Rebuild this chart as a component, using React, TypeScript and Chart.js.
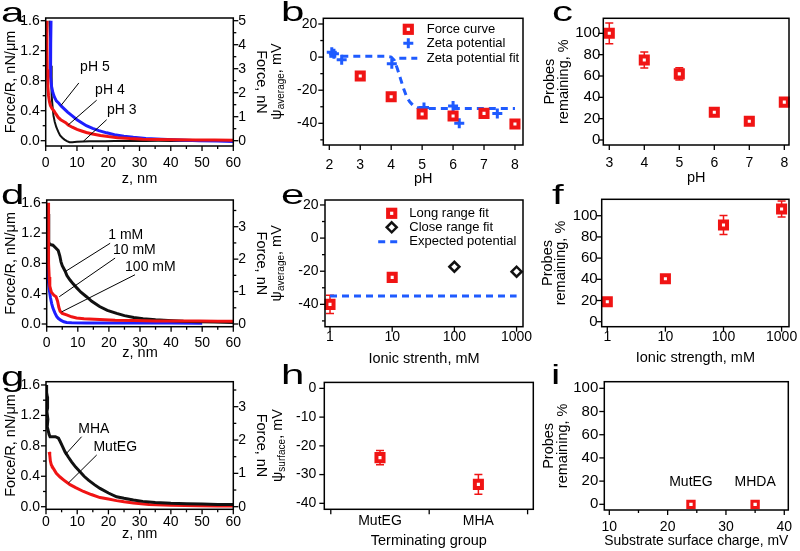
import React, { useEffect, useRef } from "react";
import { Chart, registerables } from "chart.js";

Chart.register(...registerables);

const FONT = "'Liberation Sans', Arial, Helvetica, sans-serif";
const RED = "#f01414";
const BLUE = "#1e1eff";
const FIT_BLUE = "#1f5bff";
const BLACK = "#111111";

// ---------- Panel a : force curves vs pH ----------
const aPH3Z = [1.2, 1.4, 1.6, 1.7, 1.8, 2.0, 2.2, 2.5, 2.9, 3.4, 4.0, 4.6, 5.3, 6.0, 6.8, 7.6, 8.5, 10, 12, 14, 16, 19, 22, 25, 28, 32, 36, 40, 45, 50, 55, 60];
const aPH3F = [1.6, 1.4, 1.2, 1.0, 0.8, 0.6, 0.45, 0.33, 0.25, 0.18, 0.12, 0.07, 0.04, 0.015, -0.005, -0.02, -0.02, -0.015, -0.01, -0.008, -0.006, -0.007, -0.004, -0.005, -0.003, -0.004, -0.002, -0.003, -0.002, -0.003, -0.002, -0.002];
const aPH4Z = [0.3, 0.4, 0.5, 0.7, 0.9, 1.2, 1.5, 2.0, 2.6, 3.2, 4.0, 4.8, 5.6, 6.4, 7.2, 8.5, 10, 11.5, 13, 15, 17.5, 20, 23, 27, 31, 36, 42, 48, 54, 60];
const aPH4F = [1.6, 1.25, 0.95, 0.72, 0.6, 0.52, 0.47, 0.43, 0.4, 0.36, 0.31, 0.28, 0.26, 0.24, 0.21, 0.18, 0.15, 0.13, 0.11, 0.09, 0.07, 0.055, 0.04, 0.028, 0.02, 0.015, 0.012, 0.01, 0.008, 0.006];
const aPH5Z = [1.7, 1.6, 1.5, 1.6, 1.9, 2.3, 2.8, 3.4, 4.2, 5.0, 6.0, 7.0, 8.5, 10, 11.5, 13, 15, 17, 19.5, 22, 25, 28, 32, 37, 43, 49, 55, 60];
const aPH5F = [1.6, 1.3, 1.0, 0.85, 0.72, 0.64, 0.58, 0.53, 0.5, 0.46, 0.42, 0.38, 0.33, 0.28, 0.24, 0.2, 0.165, 0.135, 0.105, 0.08, 0.06, 0.045, 0.03, 0.018, 0.008, 0.0, -0.005, -0.01];

// ---------- Panel b : potential vs pH ----------
const bForcePH = [3, 4, 5, 6, 7, 8];
const bForcePsi = [-11.4, -23.9, -34.4, -35.6, -34, -40.4];
const bZetaPH = [2.08, 2.15, 2.4, 4.02, 5.06, 6.0, 6.2, 7.43];
const bZetaPsi = [3, 2, -1.6, -4, -30.4, -29.6, -40, -34];
const bFitPH = [2.0, 3.0, 3.8, 4.0, 4.1, 4.2, 4.3, 4.4, 4.5, 4.6, 4.7, 4.85, 5.0, 6.0, 7.0, 8.0];
const bFitPsi = [0.5, 0.5, 0.5, 0, -2, -7, -13, -19, -24, -27, -29, -30.5, -31, -31, -31, -31];

// ---------- Panel c : probes remaining vs pH ----------
const cPH = [3, 4, 5, 6, 7, 8];
const cRemain = [100, 75, 62, 26, 17.5, 35.5];
const cErr = [9.7, 7.4, 5.8, 2, 1.5, 1.5];

// ---------- Panel d : force curves vs ionic strength ----------
const d1Z = [0.3, 0.5, 0.6, 0.7, 1.0, 2.0, 3.0, 3.7, 4.2, 4.6, 5.0, 5.9, 6.5, 7.5, 8.5, 9.6, 11, 12.8, 14.5, 17, 19.5, 22.5, 25, 28, 31, 35, 39, 44, 49, 54, 60];
const d1F = [1.55, 1.45, 1.2, 1.08, 1.05, 1.04, 1.0, 0.97, 0.9, 0.82, 0.77, 0.7, 0.64, 0.58, 0.53, 0.48, 0.42, 0.36, 0.3, 0.23, 0.18, 0.14, 0.11, 0.085, 0.07, 0.055, 0.045, 0.035, 0.03, 0.025, 0.02];
const d10Z = [0.5, 0.5, 0.6, 0.7, 0.8, 1.0, 1.5, 2.3, 3.0, 3.5, 3.9, 4.3, 5.0, 6.4, 8, 9.6, 12, 17, 22, 28, 35, 42, 49, 55, 60];
const d10F = [1.6, 1.3, 1.05, 0.8, 0.62, 0.5, 0.42, 0.38, 0.36, 0.3, 0.22, 0.17, 0.14, 0.12, 0.095, 0.08, 0.07, 0.06, 0.05, 0.045, 0.04, 0.04, 0.04, 0.035, 0.035];
const d100Z = [0.1, 0.2, 0.35, 0.5, 0.8, 1.2, 1.6, 2.0, 2.6, 3.2, 3.7, 4.5, 5.5, 6.4, 8, 12.8, 20, 30, 40, 50];
const d100F = [1.22, 0.95, 0.7, 0.58, 0.46, 0.35, 0.27, 0.21, 0.15, 0.1, 0.075, 0.05, 0.03, 0.02, 0.015, 0.012, 0.012, 0.012, 0.012, 0.01];

// ---------- Panel e : potential vs ionic strength ----------
const eLongI = [1, 10];
const eLongPsi = [-40, -23.7];
const eLongErr = [5.5, 2];
const eCloseI = [100, 1000];
const eClosePsi = [-17.3, -20.3];
const eExpI = [1, 1000];
const eExpPsi = [-35, -35];

// ---------- Panel f : probes remaining vs ionic strength ----------
const fI = [1, 10, 100, 1000];
const fRemain = [18.9, 40.6, 91.2, 106.3];
const fErr = [1.5, 2, 9, 7.5];

// ---------- Panel g : force curves vs terminating group ----------
const gMhaZ = [0.1, 0.2, 0.4, 0.5, 0.3, 0.6, 0.4, 0.7, 1.0, 1.3, 2, 3, 4, 4.5, 5.2, 6.1, 7.2, 8.2, 9.5, 10.9, 12.2, 13.6, 15.5, 17.3, 20, 22.6, 25, 28, 31, 35, 40, 45, 50, 55, 60];
const gMhaF = [1.6, 1.5, 1.45, 1.3, 1.25, 1.15, 1.05, 1.0, 0.95, 0.92, 0.92, 0.92, 0.9, 0.86, 0.8, 0.72, 0.65, 0.59, 0.52, 0.46, 0.4, 0.35, 0.29, 0.24, 0.18, 0.13, 0.11, 0.088, 0.07, 0.055, 0.045, 0.04, 0.035, 0.03, 0.03];
const gMutZ = [1.0, 1.2, 1.4, 1.7, 2.4, 3.3, 4.5, 6, 7.7, 9.5, 12, 14.5, 17.3, 20, 22.6, 25, 28, 33, 40, 49, 55, 60];
const gMutF = [0.72, 0.68, 0.6, 0.55, 0.5, 0.44, 0.39, 0.34, 0.29, 0.25, 0.2, 0.16, 0.12, 0.1, 0.08, 0.065, 0.05, 0.03, 0.02, 0.012, 0.01, 0.01];

// ---------- Panel h : surface potential ----------
const hGroups = ["MutEG", "MHA"];
const hPsi = [-24.1, -33.4];
const hErr = [2.5, 3.4];

// ---------- Panel i : probes remaining vs substrate charge ----------
const iGroups = ["MutEG", "MHDA"];
const iCharge = [24, 35];
const iRemain = [0, 0];

// ---------- tick values ----------
const zTicks = [0, 10, 20, 30, 40, 50, 60];
const zMinor = [5, 15, 25, 35, 45, 55];
const forceRTicks = [0, 0.4, 0.8, 1.2, 1.6];
const forceRMinor = [0.2, 0.6, 1.0, 1.4];
const aNTicks = [0, 1, 2, 3, 4, 5];
const aNMinor = [0.5, 1.5, 2.5, 3.5, 4.5];
const dgNTicks = [0, 1, 2, 3];
const dgNMinor = [0.5, 1.5, 2.5, 3.5];
const psiTicks = [20, 0, -20, -40];
const psiMinor = [10, -10, -30, -50];
const pHTicksB = [2, 3, 4, 5, 6, 7, 8];
const pHTicksC = [3, 4, 5, 6, 7, 8];
const pctTicks = [0, 20, 40, 60, 80, 100];
const ionicTicks = [1, 10, 100, 1000];
const hPsiTicks = [0, -10, -20, -30, -40];
const hBounds = [0.5, 1.5, 2.5];
const chargeTicks = [10, 20, 30, 40];
const chargeMinor = [15, 25, 35];

const pts = (xs: number[], ys: number[]) => xs.map((x, i) => ({ x, y: ys[i] }));

const curve = (xs: number[], ys: number[], color: string, width = 2.5) => ({
  data: pts(xs, ys),
  showLine: true,
  borderColor: color,
  backgroundColor: color,
  borderWidth: width,
  pointRadius: 0,
  tension: 0,
});

const markers = (xs: number[], ys: number[], style: string, color: string, r: number, bw: number, bg = "#ffffff") => ({
  data: pts(xs, ys),
  showLine: false,
  pointStyle: style,
  pointRadius: r,
  pointBorderWidth: bw,
  pointBorderColor: color,
  pointBackgroundColor: bg,
  borderColor: color,
  backgroundColor: bg,
  clip: false,
});

const dashed = (xs: number[], ys: number[], color: string) => ({
  data: pts(xs, ys),
  showLine: true,
  borderColor: color,
  borderWidth: 3,
  borderDash: [7, 5],
  pointRadius: 0,
  tension: 0,
});

type Box = { l: number; t: number; r: number; b: number };
type AxisDef = {
  type?: string;
  min: number;
  max: number;
  ticks: number[];
  fmt?: (v: number) => string;
  font?: number;
  gap?: number;
  labelC?: number;
  title?: string | string[];
  titleC?: number;
  titleLH?: number;
};
type Note = { text: string; tx: number; ty: number; line?: [number, number, number, number]; align?: string };
type LegendRow = { kind: string; color: string; label: string; half?: number; dx?: number };
type PanelDef = {
  plot: Box;
  x: AxisDef;
  y: AxisDef;
  y2?: AxisDef;
  datasets: any[];
  marks: { axis: string; values: number[]; len: number }[];
  errors?: { xs: number[]; ys: number[]; errs: number[]; color: string }[];
  notes?: Note[];
  legend?: { mx: number; tx: number; ys: number[]; rows: LegendRow[] };
  psi?: { sub: string; x: number; y: number };
};

const TITLE_SIZE = 14.5;

function drawMarker(ctx: CanvasRenderingContext2D, kind: string, color: string, x: number, y: number, half = 9) {
  ctx.save();
  if (kind === "rect") {
    ctx.fillStyle = "#fff";
    ctx.strokeStyle = color;
    ctx.lineWidth = 4;
    ctx.fillRect(x - 3.6, y - 3.6, 7.2, 7.2);
    ctx.strokeRect(x - 3.6, y - 3.6, 7.2, 7.2);
  } else if (kind === "cross") {
    ctx.strokeStyle = color;
    ctx.lineWidth = 3;
    ctx.beginPath();
    ctx.moveTo(x - 5, y);
    ctx.lineTo(x + 5, y);
    ctx.moveTo(x, y - 5);
    ctx.lineTo(x, y + 5);
    ctx.stroke();
  } else if (kind === "diamond") {
    ctx.fillStyle = "#fff";
    ctx.strokeStyle = color;
    ctx.lineWidth = 2.5;
    ctx.beginPath();
    ctx.moveTo(x, y - 5);
    ctx.lineTo(x + 5, y);
    ctx.lineTo(x, y + 5);
    ctx.lineTo(x - 5, y);
    ctx.closePath();
    ctx.fill();
    ctx.stroke();
  } else if (kind === "dash") {
    ctx.strokeStyle = color;
    ctx.lineWidth = 3;
    ctx.setLineDash([7, 5]);
    ctx.beginPath();
    ctx.moveTo(x - half, y);
    ctx.lineTo(x + half, y);
    ctx.stroke();
  }
  ctx.restore();
}

function decorPlugin(p: PanelDef, ox: number, oy: number) {
  return {
    id: "decor",
    beforeDatasetsDraw(chart: any) {
      const ctx = chart.ctx;
      (p.errors || []).forEach((e) => {
        ctx.save();
        ctx.strokeStyle = e.color;
        ctx.lineWidth = 1.5;
        e.xs.forEach((xv, i) => {
          const X = chart.scales.x.getPixelForValue(xv);
          const Y1 = chart.scales.y.getPixelForValue(e.ys[i] + e.errs[i]);
          const Y2 = chart.scales.y.getPixelForValue(e.ys[i] - e.errs[i]);
          ctx.beginPath();
          ctx.moveTo(X, Y1);
          ctx.lineTo(X, Y2);
          ctx.moveTo(X - 4, Y1);
          ctx.lineTo(X + 4, Y1);
          ctx.moveTo(X - 4, Y2);
          ctx.lineTo(X + 4, Y2);
          ctx.stroke();
        });
        ctx.restore();
      });
    },
    afterDraw(chart: any) {
      const ctx: CanvasRenderingContext2D = chart.ctx;
      const a = chart.chartArea;
      ctx.save();
      ctx.strokeStyle = "#000";
      ctx.lineWidth = 1.5;
      ctx.strokeRect(a.left, a.top, a.right - a.left, a.bottom - a.top);
      ctx.lineWidth = 1.3;
      p.marks.forEach((m) => {
        const s = chart.scales[m.axis];
        m.values.forEach((v) => {
          if (v < s.min || v > s.max) return;
          const P = s.getPixelForValue(v);
          ctx.beginPath();
          if (m.axis === "x") {
            ctx.moveTo(P, a.bottom);
            ctx.lineTo(P, a.bottom + m.len);
          } else if (m.axis === "y") {
            ctx.moveTo(a.left - m.len, P);
            ctx.lineTo(a.left, P);
          } else {
            ctx.moveTo(a.right, P);
            ctx.lineTo(a.right + m.len, P);
          }
          ctx.stroke();
        });
      });
      // annotations
      (p.notes || []).forEach((n) => {
        const sx = chart.scales.x;
        const sy = chart.scales.y;
        if (n.line) {
          ctx.lineWidth = 1;
          ctx.strokeStyle = "#000";
          ctx.beginPath();
          ctx.moveTo(sx.getPixelForValue(n.line[0]), sy.getPixelForValue(n.line[1]));
          ctx.lineTo(sx.getPixelForValue(n.line[2]), sy.getPixelForValue(n.line[3]));
          ctx.stroke();
        }
        ctx.fillStyle = "#000";
        ctx.font = `14px ${FONT}`;
        ctx.textBaseline = "middle";
        ctx.textAlign = (n.align as CanvasTextAlign) || "left";
        ctx.fillText(n.text, sx.getPixelForValue(n.tx), sy.getPixelForValue(n.ty));
      });
      // legend
      if (p.legend) {
        const L = p.legend;
        L.rows.forEach((r, i) => {
          const y = L.ys[i] - oy;
          drawMarker(ctx, r.kind, r.color, L.mx - ox + (r.dx || 0), y, r.half);
          ctx.fillStyle = "#000";
          ctx.font = `13px ${FONT}`;
          ctx.textBaseline = "middle";
          ctx.textAlign = "left";
          ctx.fillText(r.label, L.tx - ox, y);
        });
      }
      // psi axis title with subscript
      if (p.psi) {
        ctx.translate(p.psi.x - ox, p.psi.y - oy);
        ctx.rotate(-Math.PI / 2);
        ctx.fillStyle = "#000";
        ctx.textBaseline = "middle";
        ctx.textAlign = "left";
        const main = `${TITLE_SIZE}px ${FONT}`;
        const small = `10px ${FONT}`;
        ctx.font = main;
        const w1 = ctx.measureText("ψ").width;
        const w3 = ctx.measureText(", mV").width;
        ctx.font = small;
        const w2 = ctx.measureText(p.psi.sub).width;
        let px = -(w1 + w2 + w3) / 2;
        ctx.font = main;
        ctx.fillText("ψ", px, 0);
        px += w1;
        ctx.font = small;
        ctx.fillText(p.psi.sub, px, 4.5);
        px += w2;
        ctx.font = main;
        ctx.fillText(", mV", px, 0);
      }
      ctx.restore();
    },
  };
}

function buildPanel(p: PanelDef) {
  const cx = Math.max(0, Math.round(p.plot.l - 64));
  const cy = Math.round(p.plot.t - 16);
  const cr = Math.round(p.plot.r + (p.y2 ? 40 : 24));
  const cb = Math.round(p.plot.b + 46);
  const w = cr - cx;
  const h = cb - cy;
  const title = (text: any, lh: number, pad: number) =>
    text
      ? {
          display: true,
          text,
          color: "#000",
          font: { family: FONT, size: TITLE_SIZE, lineHeight: lh },
          padding: { top: pad, bottom: pad },
        }
      : { display: false };
  const common = (a: AxisDef) => ({
    type: a.type || "linear",
    min: a.min,
    max: a.max,
    grid: { display: false, drawTicks: false },
    border: { display: false },
    afterBuildTicks: (s: any) => {
      s.ticks = a.ticks.map((v) => ({ value: v }));
    },
  });
  const fs = (a: AxisDef) => a.font || 14;
  const scales: any = {
    x: {
      ...common(p.x),
      position: "bottom",
      afterFit: (s: any) => {
        s.height = cb - p.plot.b;
      },
      ticks: {
        autoSkip: false,
        maxRotation: 0,
        minRotation: 0,
        color: "#000",
        font: { family: FONT, size: fs(p.x) },
        padding: (p.x.labelC as number) - p.plot.b - (fs(p.x) * 1.2) / 2,
        callback: (v: any) => (p.x.fmt ? p.x.fmt(Number(v)) : String(v)),
      },
      title: title(p.x.title, 1.2, cb - (p.x.titleC || 0) - (TITLE_SIZE * 1.2) / 2),
    },
    y: {
      ...common(p.y),
      position: "left",
      afterFit: (s: any) => {
        s.width = p.plot.l - cx;
      },
      ticks: {
        autoSkip: false,
        color: "#000",
        font: { family: FONT, size: fs(p.y) },
        padding: p.y.gap,
        callback: (v: any) => (p.y.fmt ? p.y.fmt(Number(v)) : String(v)),
      },
      title: title(
        p.y.title,
        p.y.titleLH || 1.2,
        Math.max(0, (p.y.titleC || 0) - cx - (TITLE_SIZE * (p.y.titleLH || 1.2)) / 2)
      ),
    },
  };
  if (p.y2) {
    const y2 = p.y2;
    scales.y2 = {
      ...common(y2),
      axis: "y",
      position: "right",
      afterFit: (s: any) => {
        s.width = cr - p.plot.r;
      },
      ticks: {
        autoSkip: false,
        color: "#000",
        font: { family: FONT, size: fs(y2) },
        padding: y2.gap,
        callback: (v: any) => String(v),
      },
      title: title(y2.title, 1.2, Math.max(0, cr - (y2.titleC || 0) - (TITLE_SIZE * 1.2) / 2)),
    };
  }
  const config: any = {
    type: "scatter",
    data: { datasets: p.datasets },
    options: {
      responsive: false,
      maintainAspectRatio: false,
      animation: false,
      devicePixelRatio: 1,
      events: [],
      layout: {
        padding: { top: p.plot.t - cy, left: 0, bottom: 0, right: p.y2 ? 0 : cr - p.plot.r },
      },
      plugins: { legend: { display: false }, tooltip: { enabled: false } },
      scales,
    },
    plugins: [decorPlugin(p, cx, cy)],
  };
  return { x: cx, y: cy, w, h, config };
}

// ---------- panel definitions ----------
const defs: (() => PanelDef)[] = [
  // a
  () => ({
    plot: { l: 45.7, t: 18, r: 233.3, b: 146 },
    x: { min: 0, max: 60, ticks: zTicks, labelC: 163, title: "z, nm", titleC: 179 },
    y: { min: -0.0707, max: 1.636, ticks: forceRTicks, fmt: (v) => v.toFixed(1), gap: 6, title: "Force/R, nN/μm", titleC: 11 },
    y2: { min: -0.0707 * 3.125, max: 1.636 * 3.125, ticks: aNTicks, gap: 5, title: "Force, nN", titleC: 261 },
    datasets: [curve(aPH4Z, aPH4F, RED, 3), curve(aPH5Z, aPH5F, BLUE, 3), curve(aPH3Z, aPH3F, BLACK, 2)],
    marks: [
      { axis: "x", values: zTicks, len: 5 },
      { axis: "x", values: zMinor, len: 3 },
      { axis: "y", values: forceRTicks, len: 5 },
      { axis: "y", values: forceRMinor, len: 3 },
      { axis: "y2", values: aNTicks, len: 5 },
      { axis: "y2", values: aNMinor, len: 3 },
    ],
    notes: [
      { text: "pH 5", tx: 11, ty: 0.98, line: [10.6, 0.77, 4.9, 0.47] },
      { text: "pH 4", tx: 15.8, ty: 0.67, line: [16.3, 0.54, 7.2, 0.21] },
      { text: "pH 3", tx: 19.6, ty: 0.41, line: [19.5, 0.28, 12, -0.01] },
    ],
  }),
  // b
  () => ({
    plot: { l: 323.3, t: 18.3, r: 523, b: 145 },
    x: { min: 1.806, max: 8.26, ticks: pHTicksB, labelC: 165, title: "pH", titleC: 178.5 },
    y: { min: -53.1, max: 23.44, ticks: psiTicks, gap: 6 },
    datasets: [
      markers(bForcePH, bForcePsi, "rect", RED, 5, 4),
      markers(bZetaPH, bZetaPsi, "cross", FIT_BLUE, 5, 3),
      dashed(bFitPH, bFitPsi, FIT_BLUE),
    ],
    marks: [
      { axis: "x", values: pHTicksB, len: 5 },
      { axis: "y", values: psiTicks, len: 5 },
      { axis: "y", values: psiMinor, len: 3 },
    ],
    legend: {
      mx: 408.3,
      tx: 426.7,
      ys: [29.3, 43.3, 58.3],
      rows: [
        { kind: "rect", color: RED, label: "Force curve" },
        { kind: "cross", color: FIT_BLUE, label: "Zeta potential" },
        { kind: "dash", color: FIT_BLUE, label: "Zeta potential fit", half: 9 },
      ],
    },
    psi: { sub: "average", x: 277, y: 81.5 },
  }),
  // c
  () => ({
    plot: { l: 603.3, t: 18.3, r: 789, b: 145 },
    x: { min: 2.829, max: 8.134, ticks: pHTicksC, labelC: 163, title: "pH", titleC: 178 },
    y: { min: -4.69, max: 114.1, ticks: pctTicks, gap: 3, font: 15, title: ["Probes", "remaining, %"], titleC: 550, titleLH: 0.95 },
    datasets: [markers(cPH, cRemain, "rect", RED, 5, 4)],
    errors: [{ xs: cPH, ys: cRemain, errs: cErr, color: RED }],
    marks: [
      { axis: "x", values: pHTicksC, len: 5 },
      { axis: "y", values: pctTicks, len: 5 },
    ],
  }),
  // d
  () => ({
    plot: { l: 46.7, t: 200, r: 233.3, b: 326.7 },
    x: { min: 0, max: 60, ticks: zTicks, labelC: 343, title: "z, nm", titleC: 353 },
    y: { min: -0.0356, max: 1.636, ticks: forceRTicks, fmt: (v) => v.toFixed(1), gap: 6, title: "Force/R, nN/μm", titleC: 11 },
    y2: { min: -0.0356 * 2.337, max: 1.636 * 2.337, ticks: dgNTicks, gap: 5, title: "Force, nN", titleC: 261 },
    datasets: [curve(d10Z, d10F, RED, 3), curve(d1Z, d1F, BLACK, 3), curve(d100Z, d100F, BLUE, 3)],
    marks: [
      { axis: "x", values: zTicks, len: 5 },
      { axis: "x", values: zMinor, len: 3 },
      { axis: "y", values: forceRTicks, len: 5 },
      { axis: "y", values: forceRMinor, len: 3 },
      { axis: "y2", values: dgNTicks, len: 5 },
      { axis: "y2", values: dgNMinor, len: 3 },
    ],
    notes: [
      { text: "1 mM", tx: 19.8, ty: 1.17, line: [20.4, 1.065, 5.9, 0.69] },
      { text: "10 mM", tx: 21.3, ty: 0.98, line: [22, 0.87, 4.05, 0.36] },
      { text: "100 mM", tx: 25.2, ty: 0.75, line: [28.4, 0.65, 4.8, 0.16] },
    ],
  }),
  // e
  () => ({
    plot: { l: 325, t: 200, r: 523, b: 326.7 },
    x: { type: "logarithmic", min: 0.831, max: 1268, ticks: ionicTicks, labelC: 337, title: "Ionic strenth, mM", titleC: 359 },
    y: { min: -53.5, max: 23.0, ticks: psiTicks, gap: 6.5 },
    datasets: [
      markers(eLongI, eLongPsi, "rect", RED, 5, 4),
      markers(eCloseI, eClosePsi, "rectRot", BLACK, 5, 2.5),
      dashed(eExpI, eExpPsi, FIT_BLUE),
    ],
    errors: [{ xs: eLongI, ys: eLongPsi, errs: eLongErr, color: RED }],
    marks: [
      { axis: "x", values: ionicTicks, len: 5 },
      { axis: "y", values: psiTicks, len: 5 },
      { axis: "y", values: psiMinor, len: 3 },
    ],
    legend: {
      mx: 391.7,
      tx: 409.3,
      ys: [213.3, 227.3, 241.7],
      rows: [
        { kind: "rect", color: RED, label: "Long range fit" },
        { kind: "diamond", color: BLACK, label: "Close range fit" },
        { kind: "dash", color: FIT_BLUE, label: "Expected potential", half: 11, dx: -2.5 },
      ],
    },
    psi: { sub: "average", x: 277, y: 263.3 },
  }),
  // f
  () => ({
    plot: { l: 601.7, t: 199.3, r: 789, b: 326.7 },
    x: { type: "logarithmic", min: 0.801, max: 1341, ticks: ionicTicks, labelC: 337, title: "Ionic strength, mM", titleC: 358 },
    y: { min: -4.72, max: 115.5, ticks: pctTicks, gap: 4, font: 15, title: ["Probes", "remaining, %"], titleC: 547.5, titleLH: 0.95 },
    datasets: [markers(fI, fRemain, "rect", RED, 5, 4)],
    errors: [{ xs: fI, ys: fRemain, errs: fErr, color: RED }],
    marks: [
      { axis: "x", values: ionicTicks, len: 5 },
      { axis: "y", values: pctTicks, len: 5 },
    ],
  }),
  // g
  () => ({
    plot: { l: 46, t: 381.7, r: 233.3, b: 509.3 },
    x: { min: 0, max: 60, ticks: zTicks, labelC: 522, title: "z, nm", titleC: 533.5 },
    y: { min: -0.0342, max: 1.643, ticks: forceRTicks, fmt: (v) => v.toFixed(1), gap: 6, title: "Force/R, nN/μm", titleC: 11 },
    y2: { min: -0.0342 * 2.282, max: 1.643 * 2.282, ticks: dgNTicks, gap: 5, title: "Force, nN", titleC: 261 },
    datasets: [curve(gMhaZ, gMhaF, BLACK, 3), curve(gMutZ, gMutF, RED, 3)],
    marks: [
      { axis: "x", values: zTicks, len: 5 },
      { axis: "x", values: zMinor, len: 3 },
      { axis: "y", values: forceRTicks, len: 5 },
      { axis: "y", values: forceRMinor, len: 3 },
      { axis: "y2", values: dgNTicks, len: 5 },
      { axis: "y2", values: dgNMinor, len: 3 },
    ],
    notes: [
      { text: "MHA", tx: 10.35, ty: 1.02, line: [11.4, 0.92, 6.1, 0.68] },
      { text: "MutEG", tx: 15.2, ty: 0.78, line: [16.25, 0.68, 7.15, 0.31] },
    ],
  }),
  // h
  () => {
    const hPos = hGroups.map((_, i) => i + 1);
    return {
      plot: { l: 324.3, t: 381.7, r: 533.3, b: 509.3 },
      x: { min: 0.434, max: 2.558, ticks: hPos, fmt: (v: number) => hGroups[Math.round(v) - 1] || "", labelC: 521.5, title: "Terminating group", titleC: 540.5 },
      y: { min: -42.08, max: 2.08, ticks: hPsiTicks, gap: 8 },
      datasets: [markers(hPos, hPsi, "rect", RED, 5, 4)],
      errors: [{ xs: hPos, ys: hPsi, errs: hErr, color: RED }],
      marks: [
        { axis: "x", values: hBounds, len: 5 },
        { axis: "y", values: hPsiTicks, len: 5 },
      ],
      psi: { sub: "surface", x: 277.5, y: 445.5 },
    };
  },
  // i
  () => ({
    plot: { l: 604.3, t: 381.7, r: 788.3, b: 510 },
    x: { min: 9.14, max: 40.69, ticks: chargeTicks, labelC: 527, title: "Substrate surface charge, mV", titleC: 541 },
    y: { min: -4.9, max: 105.7, ticks: pctTicks, gap: 6, font: 15, title: ["Probes", "remaining, %"], titleC: 549, titleLH: 0.95 },
    datasets: [markers(iCharge, iRemain, "rect", RED, 4.5, 3)],
    marks: [
      { axis: "x", values: chargeTicks, len: 5 },
      { axis: "x", values: chargeMinor, len: 3 },
      { axis: "y", values: pctTicks, len: 5 },
    ],
    notes: iGroups.map((g, i) => ({ text: g, tx: iCharge[i], ty: 19.5, align: "center" })),
  }),
];

const letters: [string, number, number][] = [
  ["a", 1, 23],
  ["b", 281, 22],
  ["c", 552, 22],
  ["d", 1, 205],
  ["e", 281, 205],
  ["f", 552, 205],
  ["g", 1, 387],
  ["h", 281, 385],
  ["i", 551, 385],
];

function Panel({ make }: { make: () => PanelDef }) {
  const ref = useRef<HTMLCanvasElement>(null);
  const geo = buildPanel(make());
  useEffect(() => {
    const built = buildPanel(make());
    const chart = new Chart(ref.current as HTMLCanvasElement, built.config);
    return () => chart.destroy();
  }, []);
  return (
    <canvas
      ref={ref}
      width={geo.w}
      height={geo.h}
      style={{ position: "absolute", left: geo.x, top: geo.y, width: geo.w, height: geo.h }}
    />
  );
}

export default function App() {
  return (
    <div
      style={{
        position: "fixed",
        left: 0,
        top: 0,
        width: 800,
        height: 551,
        overflow: "hidden",
        background: "#ffffff",
      }}
    >
      {defs.map((d, i) => (
        <Panel key={i} make={d} />
      ))}
      {letters.map(([t, x, base]) => (
        <div
          key={t}
          style={{
            position: "absolute",
            left: x,
            top: base - 23.7,
            fontFamily: FONT,
            fontSize: 28,
            lineHeight: "28px",
            color: "#000",
            transform: "scaleX(1.5)",
            transformOrigin: "left top",
          }}
        >
          {t}
        </div>
      ))}
    </div>
  );
}
